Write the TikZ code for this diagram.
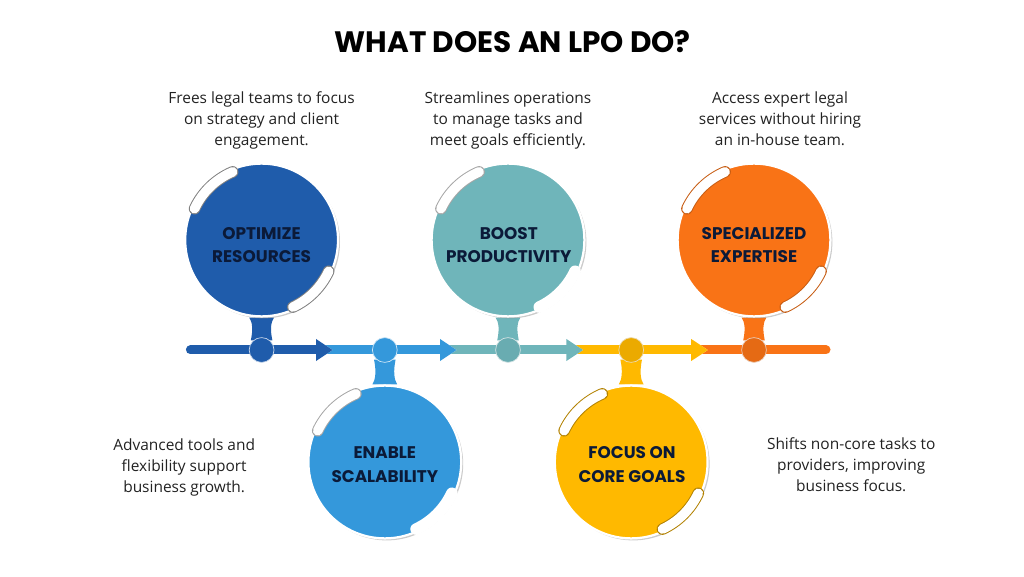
\documentclass[tikz,border=0pt]{standalone}
\usepackage{fontspec}
\setmainfont{Open Sans}
\newfontfamily\headfont{Poppins}
\usetikzlibrary{positioning}
\usetikzlibrary{arrows.meta}
\usetikzlibrary{shadows}
\usetikzlibrary{backgrounds}
\usetikzlibrary{calc}

\definecolor{darkblue}{HTML}{1F5CAB}
\definecolor{skyblue}{HTML}{3498DB}
\definecolor{tealgreen}{HTML}{6FB5BA}
\definecolor{sunyellow}{HTML}{FFB900}
\definecolor{deeporange}{HTML}{F97316}
\definecolor{inkblue}{HTML}{0B1A38}
\definecolor{bodytext}{HTML}{222222}

\tikzset{
  bigdisc/.style={circle,fill=#1,draw=white,line width=1.6pt,minimum size=3.82cm,inner sep=0pt,
    drop shadow={shadow xshift=.05cm,shadow yshift=-.05cm,fill=black!45,opacity=.45}},
  disclabel/.style={align=center,text=inkblue,inner sep=0pt,font=\headfont\bfseries\fontsize{12}{16.8}\selectfont},
  hubdot/.style={circle,fill=#1,draw=white!75!#1,line width=.5pt,minimum size=.62cm,inner sep=0pt},
  pill/.style={draw=#1,double=white,double distance=.24cm,line width=.7pt,line cap=round},
  seg/.style={line width=.225cm,draw=#1,preaction={draw=white,-{Triangle[length=.56cm,width=.68cm]}},-{Triangle[length=.42cm,width=.52cm]}},
  note/.style={align=center,text=bodytext,font=\fontsize{11}{14.9}\selectfont,inner sep=0pt,text depth=3pt}
}

% neck between a disc and its hub: colour, disc anchor, hub anchor, side
\newcommand{\neck}[4]{
\fill[#1] ($(#2)+(-.31,0)$) .. controls ($(#2)+(-.23,-.12*#4)$) and ($(#3)+(-.21,.2*#4)$) .. ($(#3)+(-.27,-.08*#4)$)
  -- ($(#3)+(.27,-.08*#4)$) .. controls ($(#3)+(.21,.2*#4)$) and ($(#2)+(.23,-.12*#4)$) .. ($(#2)+(.31,0)$) -- cycle;
}

\begin{document}
\begin{tikzpicture}
\useasboundingbox (0,0) rectangle (25.6,14.4);

\node[font=\headfont\bfseries\fontsize{21}{24}\selectfont,text=black] (title) at (12.82,13.37) {WHAT DOES AN LPO DO?};

% discs
\node[bigdisc=darkblue] (optimize) at (6.54,8.4) {};
\node[bigdisc=skyblue] (enable) at (9.62,2.85) {};
\node[bigdisc=tealgreen] (boost) at (12.7,8.4) {};
\node[bigdisc=sunyellow] (focus) at (15.78,2.85) {};
\node[bigdisc=deeporange] (expert) at (18.85,8.4) {};

% hubs on the line
\node[hubdot=darkblue] (huba) at (6.54,5.65) {};
\node[hubdot=skyblue] (hubb) at (9.62,5.65) {};
\node[hubdot=tealgreen!95!black] (hubc) at (12.7,5.65) {};
\node[hubdot=sunyellow!92!black] (hubd) at (15.78,5.65) {};
\node[hubdot=deeporange!92!black] (hube) at (18.85,5.65) {};

\coordinate (linestart) at (4.76,5.65);
\coordinate (tipa) at (8.32,5.65);
\coordinate (tailb) at (8.0,5.65);
\coordinate (tipb) at (11.42,5.65);
\coordinate (tailc) at (11.1,5.65);
\coordinate (tipc) at (14.58,5.65);
\coordinate (taild) at (14.26,5.65);
\coordinate (tipd) at (17.7,5.65);
\coordinate (taile) at (17.4,5.65);
\coordinate (lineend) at (20.65,5.65);

\begin{scope}[on background layer]
\draw[line width=.225cm,draw=deeporange,line cap=round] (taile) -- (lineend);
\draw[seg=sunyellow] (taild) -- (tipd);
\draw[seg=tealgreen] (tailc) -- (tipc);
\draw[seg=skyblue] (tailb) -- (tipb);
\draw[seg=darkblue,line cap=round] (linestart) -- (tipa);
\neck{darkblue}{optimize.south}{huba.north}{1}
\neck{skyblue}{enable.north}{hubb.south}{-1}
\neck{tealgreen}{boost.south}{hubc.north}{1}
\neck{sunyellow}{focus.north}{hubd.south}{-1}
\neck{deeporange}{expert.south}{hube.north}{1}
\end{scope}

% white pills on the rims
\draw[pill=gray] ($(optimize)+(113:1.85)$) arc[start angle=113,end angle=155,radius=1.85];
\draw[pill=gray] ($(optimize)+(-65:1.85)$) arc[start angle=-65,end angle=-25,radius=1.85];
\draw[pill=gray!70] ($(enable)+(113:1.85)$) arc[start angle=113,end angle=155,radius=1.85];
\draw[pill=white] ($(enable)+(-65:1.85)$) arc[start angle=-65,end angle=-25,radius=1.85];
\draw[pill=gray!70] ($(boost)+(113:1.85)$) arc[start angle=113,end angle=155,radius=1.85];
\draw[pill=white] ($(boost)+(-65:1.85)$) arc[start angle=-65,end angle=-25,radius=1.85];
\draw[pill=sunyellow!70!black] ($(focus)+(113:1.85)$) arc[start angle=113,end angle=155,radius=1.85];
\draw[pill=sunyellow!70!black] ($(focus)+(-65:1.85)$) arc[start angle=-65,end angle=-25,radius=1.85];
\draw[pill=deeporange!80!black] ($(expert)+(113:1.85)$) arc[start angle=113,end angle=155,radius=1.85];
\draw[pill=deeporange!80!black] ($(expert)+(-65:1.85)$) arc[start angle=-65,end angle=-25,radius=1.85];

% texts
\node[disclabel] (labeloptimize) at (6.54,8.27) {OPTIMIZE\\RESOURCES};
\node[disclabel] (labelenable) at (9.62,2.79) {ENABLE\\SCALABILITY};
\node[disclabel] (labelboost) at (12.72,8.27) {BOOST\\PRODUCTIVITY};
\node[disclabel] (labelfocus) at (15.8,2.79) {FOCUS ON\\CORE GOALS};
\node[disclabel] (labelexpert) at (18.85,8.27) {SPECIALIZED\\EXPERTISE};

\node[note,above=.32 of optimize] (noteoptimize) {Frees legal teams to focus\\on strategy and client\\engagement.};
\node[note,above=.32 of boost] (noteboost) {Streamlines operations\\to manage tasks and\\meet goals efficiently.};
\node[note,above=.32 of expert,xshift=.65cm] (noteexpert) {Access expert legal\\services without hiring\\an in-house team.};
\node[note,left=1.3 of enable,yshift=-.14cm] (noteenable) {Advanced tools and\\flexibility support\\business growth.};
\node[note,right=1.45 of focus,yshift=-.12cm] (notefocus) {Shifts non-core tasks to\\providers, improving\\business focus.};
\end{tikzpicture}
\end{document}
